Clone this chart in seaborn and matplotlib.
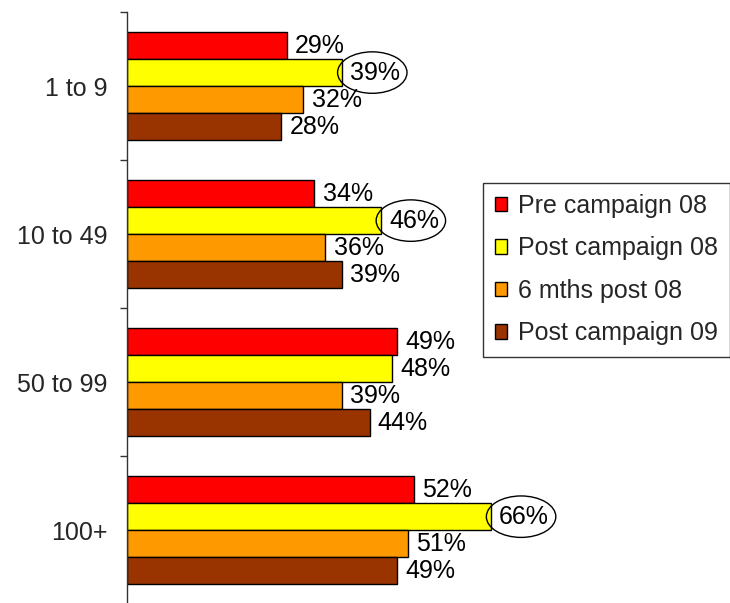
import matplotlib
matplotlib.use("Agg")
import matplotlib.pyplot as plt
from matplotlib.patches import Ellipse
import seaborn as sns
import pandas as pd

# Business size bands and survey waves
categories = ["1 to 9", "10 to 49", "50 to 99", "100+"]
series = ["Pre campaign 08", "Post campaign 08", "6 mths post 08", "Post campaign 09"]
pre_08 = [29, 34, 49, 52]
post_08 = [39, 46, 48, 66]
six_mths_08 = [32, 36, 39, 51]
post_09 = [28, 39, 44, 49]
colors = ["#FF0000", "#FFFF00", "#FF9900", "#993300"]

# Highlighted results (Post campaign 08) drawn with an ellipse round the label
circled = ["1 to 9", "10 to 49", "100+"]
circled_series = "Post campaign 08"

values = [pre_08, post_08, six_mths_08, post_09]
df = pd.DataFrame(
    [(c, s, v) for s, vals in zip(series, values) for c, v in zip(categories, vals)],
    columns=["band", "wave", "pct"],
)

sns.set_style("white")
plt.rcParams["font.family"] = ["Liberation Sans", "DejaVu Sans"]

fig = plt.figure(figsize=(7.3, 6.03), dpi=100)
ax = fig.add_axes([0.174, -0.002, 0.755, 0.982])

sns.barplot(
    data=df, y="band", x="pct", hue="wave", order=categories, hue_order=series,
    palette=colors, orient="h", width=0.73, edgecolor="black", linewidth=1.0,
    saturation=1, ax=ax, legend=True,
)

for cont in ax.containers:
    ax.bar_label(cont, fmt="%g%%", padding=6, fontsize=18, color="black")

# Ellipses round the highlighted labels
n = len(series)
bar_h = 0.73 / n
k = series.index(circled_series)
for c in circled:
    i = categories.index(c)
    v = post_08[i]
    yc = i - 0.73 / 2 + bar_h * (k + 0.5)
    ax.add_patch(Ellipse((v + 5.5, yc), width=12.6, height=0.28,
                         facecolor="none", edgecolor="black", linewidth=1.0,
                         clip_on=False, zorder=5))

ax.set_xlim(0, 100)
ax.set_ylim(3.5, -0.5)
ax.set_xlabel("")
ax.set_ylabel("")
ax.set_xticks([])

# Category labels centred, tick marks at the band boundaries
ax.set_yticks(range(len(categories)))
ax.set_yticklabels(categories, fontsize=18)
ax.tick_params(axis="y", which="major", length=0, pad=14)
ax.set_yticks([i - 0.5 for i in range(len(categories) + 1)], minor=True)
ax.tick_params(axis="y", which="minor", length=5, width=1, color="#333333", left=True)

for side in ["top", "right", "bottom"]:
    ax.spines[side].set_visible(False)
ax.spines["left"].set_color("#333333")
ax.spines["left"].set_linewidth(1.0)

ax.get_legend().remove()
handles = [plt.Rectangle((0, 0), 1, 1, facecolor=col, edgecolor="black", linewidth=1)
           for col in colors]
leg = fig.legend(handles, series, loc="upper left", bbox_to_anchor=(0.662, 0.697),
                 fontsize=18, frameon=True, fancybox=False, edgecolor="black",
                 handlelength=0.5, handleheight=0.5, handletextpad=0.45,
                 labelspacing=0.74, borderpad=0.45, borderaxespad=0)
leg.get_frame().set_linewidth(1.0)

fig.savefig("out.png", dpi=100)
